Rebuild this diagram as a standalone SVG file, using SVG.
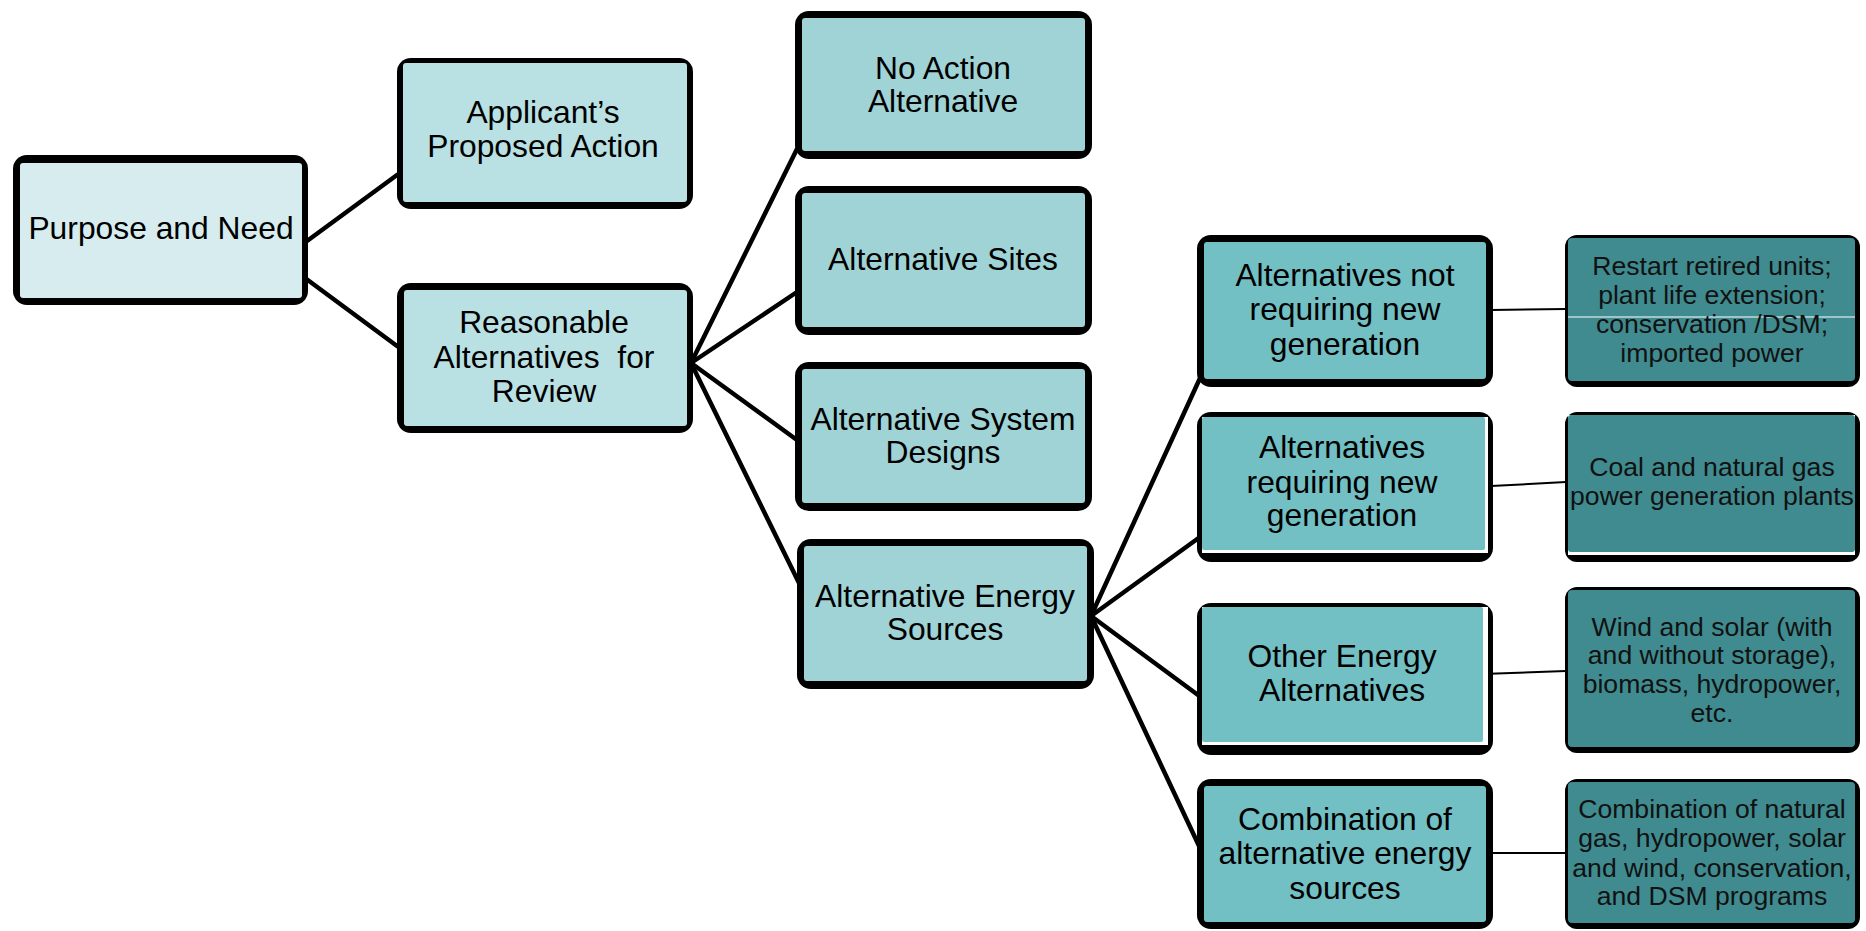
<svg xmlns="http://www.w3.org/2000/svg" width="1866" height="931" viewBox="0 0 1866 931">
<style>
.o{fill:#000;}
.t{font-family:"Liberation Sans",Arial,sans-serif;font-size:31.8px;fill:#000;text-anchor:middle;}
.s{font-family:"Liberation Sans",Arial,sans-serif;font-size:26.6px;fill:#111;text-anchor:middle;}
.c1{fill:#D6ECEF;}
.c2{fill:#B9E0E3;}
.c3{fill:#A0D3D6;}
.c4{fill:#72BFC4;}
.c5{fill:#3F8B8F;}
.k{stroke:#000;stroke-width:4.5;fill:none;stroke-linecap:round;}
.kt{stroke:#000;stroke-width:2;fill:none;}
</style>
<rect width="1866" height="931" fill="#fff"/>
<g id="connectors">
<line class="k" x1="307" y1="241" x2="397" y2="175"/>
<line class="k" x1="305" y1="278" x2="397" y2="346"/>
<line class="k" x1="691" y1="363" x2="797" y2="149"/>
<line class="k" x1="691" y1="363" x2="797" y2="292"/>
<line class="k" x1="691" y1="363" x2="797" y2="440"/>
<line class="k" x1="691" y1="363" x2="800" y2="585"/>
<line class="k" x1="1091" y1="616" x2="1201" y2="376"/>
<line class="k" x1="1091" y1="616" x2="1200" y2="537"/>
<line class="k" x1="1091" y1="616" x2="1198" y2="695"/>
<line class="k" x1="1091" y1="616" x2="1200" y2="848"/>
<line class="kt" x1="1491" y1="310" x2="1566" y2="309"/>
<line class="kt" x1="1491" y1="486" x2="1566" y2="482"/>
<line class="kt" x1="1482" y1="674" x2="1566" y2="671"/>
<line class="kt" x1="1491" y1="853" x2="1566" y2="853"/>
</g>
<g id="n1">
<rect class="o" x="13" y="155" width="295" height="150" rx="14"/>
<rect class="c1" x="20" y="163" width="282" height="135" rx="3"/>
<text class="t" x="161" y="239">Purpose and Need</text>
</g>
<g id="n2">
<rect class="o" x="397" y="58" width="296" height="151" rx="14"/>
<rect class="c2" x="403" y="63" width="284" height="139" rx="3"/>
<text class="t" x="543" y="123">Applicant’s</text>
<text class="t" x="543" y="157">Proposed Action</text>
</g>
<g id="n3">
<rect class="o" x="397" y="283" width="296" height="150" rx="14"/>
<rect class="c2" x="404" y="290" width="283" height="136" rx="3"/>
<text class="t" x="544" y="333">Reasonable</text>
<text class="t" x="544" y="368" xml:space="preserve">Alternatives  for</text>
<text class="t" x="544" y="402">Review</text>
</g>
<g id="n4">
<rect class="o" x="795" y="11" width="297" height="148" rx="14"/>
<rect class="c3" x="802" y="18" width="283" height="133" rx="3"/>
<text class="t" x="943" y="79">No Action</text>
<text class="t" x="943" y="112">Alternative</text>
</g>
<g id="n5">
<rect class="o" x="795" y="186" width="297" height="149" rx="14"/>
<rect class="c3" x="802" y="193" width="283" height="134" rx="3"/>
<text class="t" x="943" y="270">Alternative Sites</text>
</g>
<g id="n6">
<rect class="o" x="795" y="362" width="297" height="149" rx="14"/>
<rect class="c3" x="802" y="369" width="283" height="134" rx="3"/>
<text class="t" x="943" y="430">Alternative System</text>
<text class="t" x="943" y="463">Designs</text>
</g>
<g id="n7">
<rect class="o" x="797" y="539" width="297" height="150" rx="14"/>
<rect class="c3" x="804" y="546" width="283" height="135" rx="3"/>
<text class="t" x="945" y="607">Alternative Energy</text>
<text class="t" x="945" y="640">Sources</text>
</g>
<g id="n8">
<rect class="o" x="1197" y="235" width="296" height="152" rx="14"/>
<rect class="c4" x="1204" y="242" width="282" height="137" rx="3"/>
<text class="t" x="1345" y="286">Alternatives not</text>
<text class="t" x="1345" y="320">requiring new</text>
<text class="t" x="1345" y="355">generation</text>
</g>
<g id="n9">
<rect class="o" x="1197" y="412" width="296" height="150" rx="14"/>
<rect fill="#fff" x="1202" y="417" width="286" height="136"/>
<rect class="c4" x="1202" y="417" width="283" height="133" rx="2"/>
<text class="t" x="1342" y="458">Alternatives</text>
<text class="t" x="1342" y="493">requiring new</text>
<text class="t" x="1342" y="526">generation</text>
</g>
<g id="n10">
<rect class="o" x="1197" y="603" width="296" height="152" rx="14"/>
<rect fill="#fff" x="1202" y="607" width="286" height="138"/>
<rect class="c4" x="1202" y="607" width="281" height="135" rx="2"/>
<text class="t" x="1342" y="667">Other Energy</text>
<text class="t" x="1342" y="701">Alternatives</text>
</g>
<g id="n11">
<rect class="o" x="1197" y="779" width="296" height="150" rx="14"/>
<rect class="c4" x="1204" y="786" width="282" height="136" rx="3"/>
<text class="t" x="1345" y="830">Combination of</text>
<text class="t" x="1345" y="864">alternative energy</text>
<text class="t" x="1345" y="899">sources</text>
</g>
<g id="n12">
<rect class="o" x="1565" y="235" width="295" height="152" rx="12"/>
<rect class="c5" x="1568" y="238" width="287" height="143" rx="4"/>
<line x1="1568" y1="317" x2="1855" y2="317" stroke="#fff" stroke-width="1"/>
<text class="s" x="1712" y="275">Restart retired units;</text>
<text class="s" x="1712" y="304">plant life extension;</text>
<text class="s" x="1712" y="333">conservation /DSM;</text>
<text class="s" x="1712" y="362">imported power</text>
</g>
<g id="n13">
<rect class="o" x="1565" y="412" width="295" height="150" rx="12"/>
<rect fill="#fff" x="1568" y="415" width="287" height="140"/>
<rect class="c5" x="1568" y="415" width="287" height="137" rx="3"/>
<text class="s" x="1712" y="476">Coal and natural gas</text>
<text class="s" x="1712" y="505">power generation plants</text>
</g>
<g id="n14">
<rect class="o" x="1565" y="587" width="295" height="166" rx="12"/>
<rect class="c5" x="1568" y="590" width="287" height="157" rx="4"/>
<text class="s" x="1712" y="636">Wind and solar (with</text>
<text class="s" x="1712" y="664">and without storage),</text>
<text class="s" x="1712" y="693">biomass, hydropower,</text>
<text class="s" x="1712" y="722">etc.</text>
</g>
<g id="n15">
<rect class="o" x="1565" y="779" width="295" height="150" rx="12"/>
<rect class="c5" x="1568" y="782" width="287" height="141" rx="4"/>
<text class="s" x="1712" y="818">Combination of natural</text>
<text class="s" x="1712" y="847">gas, hydropower, solar</text>
<text class="s" x="1712" y="877">and wind, conservation,</text>
<text class="s" x="1712" y="905">and DSM programs</text>
</g>
</svg>
